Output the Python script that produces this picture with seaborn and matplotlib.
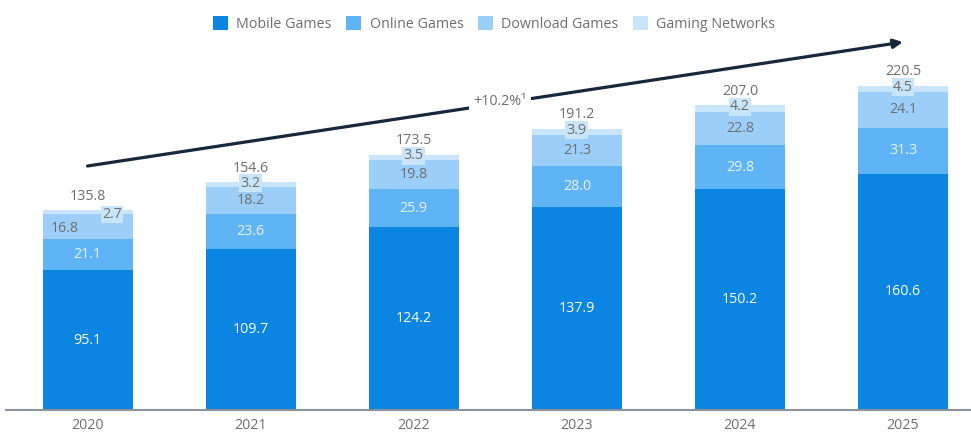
import numpy as np
import pandas as pd
import seaborn as sns
import matplotlib.pyplot as plt
from matplotlib.patches import Patch

years = ["2020", "2021", "2022", "2023", "2024", "2025"]
mobile = [95.1, 109.7, 124.2, 137.9, 150.2, 160.6]
online = [21.1, 23.6, 25.9, 28.0, 29.8, 31.3]
download = [16.8, 18.2, 19.8, 21.3, 22.8, 24.1]
gaming = [2.7, 3.2, 3.5, 3.9, 4.2, 4.5]
totals = [135.8, 154.6, 173.5, 191.2, 207.0, 220.5]
series_names = ["Mobile Games", "Online Games", "Download Games", "Gaming Networks"]
cagr_label = "+10.2%\u00b9"
# trend arrow from first to last year (values on the y scale)
trend_start = 165.8
trend_end = 250.0

colors_ = ["#0a85e2", "#5fb4f6", "#9bcff9", "#c9e5fc"]
label_colors = ["#ffffff", "#e8f3fd", "#6e6e6e", "#6e6e6e"]
gray = "#6e6e6e"

sns.set_theme(style="white")
plt.rcParams["font.family"] = ["Open Sans", "DejaVu Sans"]

df = pd.DataFrame({"year": years, "Mobile Games": mobile, "Online Games": online,
                   "Download Games": download, "Gaming Networks": gaming})
cum = df[series_names].cumsum(axis=1)

fig = plt.figure(figsize=(9.71, 4.41), dpi=100)
ax = fig.add_axes([6 / 971, 1 - 410 / 441, 965 / 971, 410 / 441])

bw = 0.552
# draw tallest cumulative first, smaller on top -> stacked look
for name, col in reversed(list(zip(series_names, colors_))):
    sns.barplot(x=df["year"], y=cum[name], color=col, width=bw, ax=ax,
                saturation=1, linewidth=0, zorder=2)

ax.set_xlim(-0.5, 5.417)
ax.set_ylim(0, 278.6)
ax.set_xlabel("")
ax.set_ylabel("")
ax.set_yticks([])
for s in ["top", "right", "left"]:
    ax.spines[s].set_visible(False)
ax.spines["bottom"].set_color("#8a9399")
ax.spines["bottom"].set_linewidth(1.5)

fs = 10.3
ax.tick_params(axis="x", length=0, pad=6, labelsize=fs, labelcolor=gray)

for i in range(len(years)):
    base = 0
    vals = [mobile[i], online[i], download[i]]
    for k, v in enumerate(vals):
        mid = base + v / 2
        xpos = i
        if i == 0 and k == 2:
            xpos = i - 0.14
            mid = base + v / 2 - 1.5
        ax.text(xpos, mid, f"{v:.1f}", ha="center", va="center", fontsize=fs,
                color=label_colors[k], zorder=4)
        base += v
    # gaming networks label with light box
    gx = i + 0.15 if i == 0 else i
    gy = base + gaming[i] / 2 + (-1.5 if i == 0 else 1.0)
    ax.text(gx, gy, f"{gaming[i]:.1f}", ha="center", va="center", fontsize=fs,
            color=gray, zorder=5,
            bbox=dict(boxstyle="square,pad=0.1", fc=colors_[3], ec="none"))
    ax.text(i, totals[i] + 9.5, f"{totals[i]:.1f}", ha="center", va="center",
            fontsize=fs, color=gray, zorder=4)

ax.annotate("", xy=(5, trend_end), xytext=(0, trend_start),
            arrowprops=dict(arrowstyle="-|>,head_length=0.45,head_width=0.22",
                            color="#16283a", lw=2.3, shrinkA=0, shrinkB=0),
            zorder=3)
ax.text(2.53, 209.3, cagr_label, ha="center", va="center", fontsize=fs,
        color=gray, zorder=4,
        bbox=dict(boxstyle="square,pad=0.3", fc="white", ec="none"))

handles = [Patch(facecolor=c, edgecolor="none", label=n) for n, c in zip(series_names, colors_)]
fig.legend(handles=handles, loc="center", bbox_to_anchor=(494 / 971, 1 - 24 / 441),
           ncol=4, frameon=False, fontsize=fs, labelcolor=gray,
           handlelength=1.05, handleheight=1.05, handletextpad=0.6, columnspacing=1.0)

fig.savefig("out.png", dpi=100)
